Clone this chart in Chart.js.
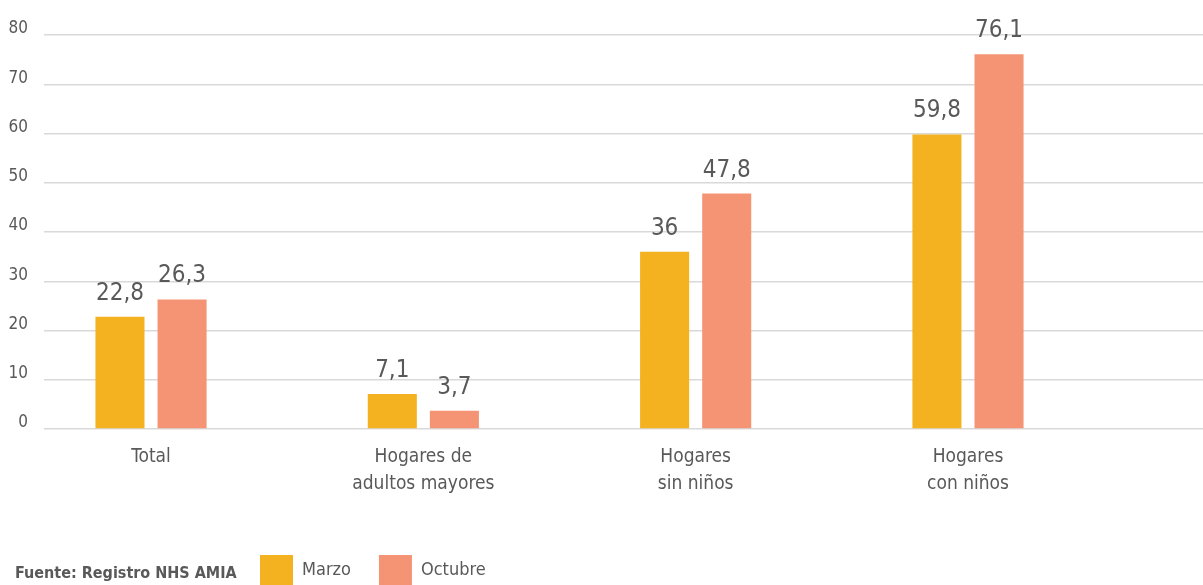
<!DOCTYPE html>
<html>
<head>
<meta charset="utf-8">
<script src="https://cdn.jsdelivr.net/npm/chart.js@4/dist/chart.umd.min.js"></script>
<style>
  html, body { margin: 0; padding: 0; background: #fff; overflow: hidden; }
  #wrap { position: relative; width: 1203px; height: 595px; }
</style>
</head>
<body>
<div id="wrap"><canvas id="chart"></canvas></div>
<script>
const categories = [['Total'], ['Hogares de', 'adultos mayores'], ['Hogares', 'sin niños'], ['Hogares', 'con niños']];
const marzo = [22.8, 7.1, 36, 59.8];
const octubre = [26.3, 3.7, 47.8, 76.1];
const yTicks = [0, 10, 20, 30, 40, 50, 60, 70, 80];
const source = 'Fuente: Registro NHS AMIA';

const FONT = '"DejaVu Sans Condensed", "Liberation Sans Narrow", sans-serif';
const GREY = '#595959';

// values written above each bar, with comma decimals
const valueLabels = {
  id: 'valueLabels',
  afterDatasetsDraw(chart) {
    const ctx = chart.ctx;
    ctx.save();
    ctx.font = '24px ' + FONT;
    ctx.fillStyle = GREY;
    ctx.textAlign = 'center';
    ctx.textBaseline = 'alphabetic';
    chart.data.datasets.forEach((ds, i) => {
      chart.getDatasetMeta(i).data.forEach((bar, j) => {
        const txt = String(ds.data[j].y).replace('.', ',');
        ctx.fillText(txt, bar.x, bar.y - 17);
      });
    });
    ctx.restore();
  }
};

// source note on the legend line, legend moved to the right of it
const sourceNote = {
  id: 'sourceNote',
  afterLayout(chart) {
    chart.legend.left = 232;
  },
  afterDraw(chart) {
    const ctx = chart.ctx;
    ctx.save();
    ctx.font = 'bold 16px ' + FONT;
    ctx.fillStyle = GREY;
    ctx.textBaseline = 'middle';
    ctx.fillText(source, 15, 574);
    ctx.restore();
  }
};

const toPoints = arr => arr.map((v, i) => ({ x: i, y: v }));

new Chart(document.getElementById('chart').getContext('2d'), {
  type: 'bar',
  data: {
    datasets: [
      { label: 'Marzo', data: toPoints(marzo), backgroundColor: '#F4B120' },
      { label: 'Octubre', data: toPoints(octubre), backgroundColor: '#F59375' }
    ]
  },
  options: {
    responsive: true,
    maintainAspectRatio: false,
    animation: false,
    layout: { padding: { top: 35, right: 0, bottom: 0, left: 0 } },
    datasets: { bar: { categoryPercentage: 0.456, barPercentage: 0.79 } },
    plugins: {
      tooltip: { enabled: false },
      legend: {
        position: 'bottom',
        align: 'start',
        labels: {
          boxWidth: 33,
          boxHeight: 30,
          padding: 28,
          color: GREY,
          font: { family: FONT, size: 18 }
        }
      }
    },
    scales: {
      x: {
        type: 'linear',
        offset: false,
        min: -0.393,
        max: 3.863,
        grid: { display: false, offset: false },
        border: { display: false },
        afterBuildTicks: s => { s.ticks = categories.map((c, i) => ({ value: i })); },
        afterFit: s => { s.height = 98; },
        ticks: {
          padding: 7,
          autoSkip: false,
          maxRotation: 0,
          color: GREY,
          font: { family: FONT, size: 19, lineHeight: 1.4 },
          callback: v => categories[v]
        }
      },
      y: {
        min: 0,
        max: 80,
        afterBuildTicks: s => { s.ticks = yTicks.map(v => ({ value: v })); },
        afterFit: s => { s.width = 44; },
        grid: { color: '#d9d9d9', lineWidth: 1.5, drawTicks: false },
        border: { display: false },
        ticks: {
          padding: 16,
          labelOffset: -6,
          color: GREY,
          font: { family: FONT, size: 17 }
        }
      }
    }
  },
  plugins: [valueLabels, sourceNote]
});
</script>
</body>
</html>
